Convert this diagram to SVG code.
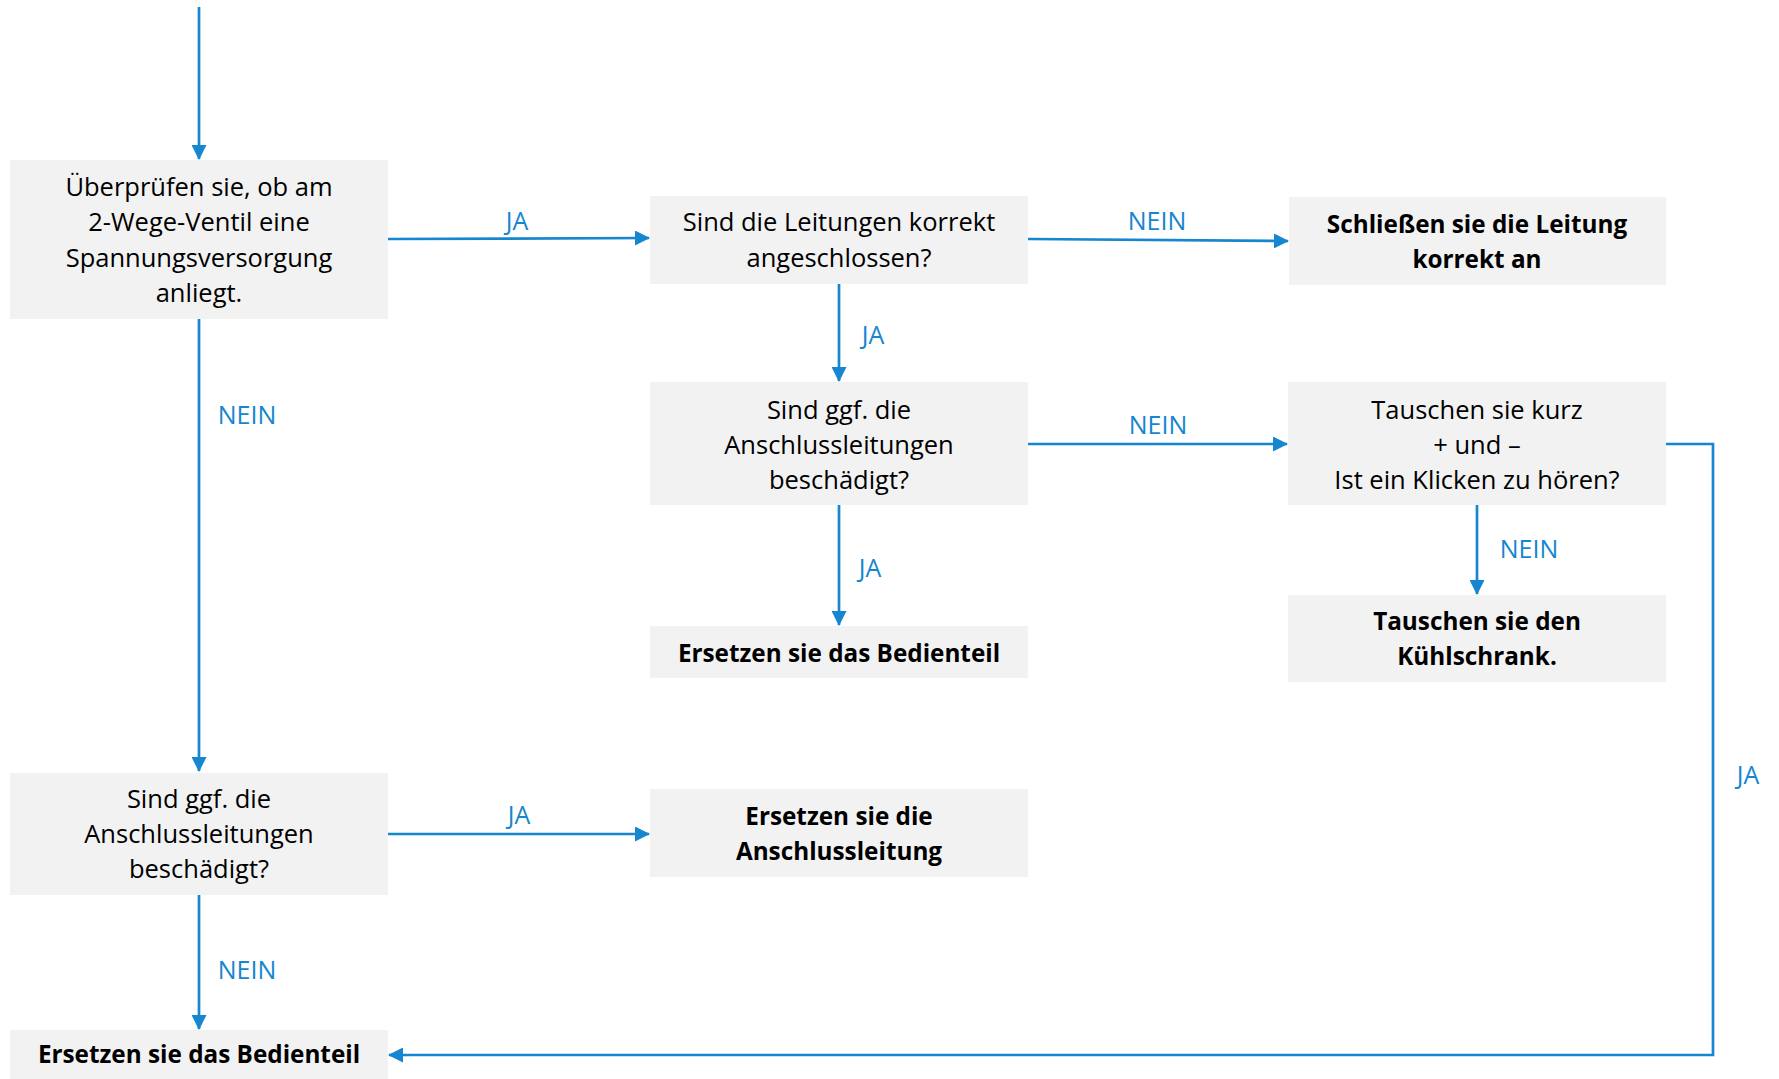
<svg xmlns="http://www.w3.org/2000/svg" width="1779" height="1079" viewBox="0 0 1779 1079">
<style>
.box{fill:#f2f2f2}
.t{font-family:"Open Sans","Liberation Sans",sans-serif;font-size:25.5px;fill:#000;text-anchor:middle}
.b{font-weight:bold;font-size:24.3px}
.l{font-family:"Open Sans","Liberation Sans",sans-serif;font-size:25px;fill:#1586cf;text-anchor:middle}
.c{fill:none;stroke:#1586cf;stroke-width:2.7}
</style>
<defs>
<marker id="ah" markerWidth="15" markerHeight="15" refX="14" refY="7.5" orient="auto" markerUnits="userSpaceOnUse">
<path d="M0,0 L15,7.5 L0,15 Z" fill="#1586cf"/>
</marker>
</defs>
<rect width="1779" height="1079" fill="#fff"/>
<g id="connectors">
<path class="c" d="M199,7 V159" marker-end="url(#ah)"/>
<path class="c" d="M388,239 L649,238" marker-end="url(#ah)"/>
<path class="c" d="M1028,239 L1288,241" marker-end="url(#ah)"/>
<path class="c" d="M839,284 V381" marker-end="url(#ah)"/>
<path class="c" d="M1028,444 H1287" marker-end="url(#ah)"/>
<path class="c" d="M839,505 V625" marker-end="url(#ah)"/>
<path class="c" d="M1477,505 V594" marker-end="url(#ah)"/>
<path class="c" d="M1666,444 H1713 V1055 H389" marker-end="url(#ah)"/>
<path class="c" d="M199,319 V771" marker-end="url(#ah)"/>
<path class="c" d="M388,834 H649" marker-end="url(#ah)"/>
<path class="c" d="M199,895 V1029" marker-end="url(#ah)"/>
<text class="l" x="517" y="230">JA</text>
<text class="l" x="1157" y="230">NEIN</text>
<text class="l" x="873" y="344">JA</text>
<text class="l" x="1158" y="434">NEIN</text>
<text class="l" x="870" y="577">JA</text>
<text class="l" x="1529" y="558">NEIN</text>
<text class="l" x="1748" y="784">JA</text>
<text class="l" x="247" y="424">NEIN</text>
<text class="l" x="519" y="824">JA</text>
<text class="l" x="247" y="979">NEIN</text>
</g>
<g id="n1">
<rect class="box" x="10" y="160" width="378" height="159"/>
<text class="t" x="199" y="196">Überprüfen sie, ob am</text>
<text class="t" x="199" y="231">2-Wege-Ventil eine</text>
<text class="t" x="199" y="267">Spannungsversorgung</text>
<text class="t" x="199" y="302">anliegt.</text>
</g>
<g id="n2">
<rect class="box" x="650" y="196" width="378" height="88"/>
<text class="t" x="839" y="231">Sind die Leitungen korrekt</text>
<text class="t" x="839" y="267">angeschlossen?</text>
</g>
<g id="n3">
<rect class="box" x="1289" y="197" width="377" height="88"/>
<text class="t b" x="1477" y="233">Schließen sie die Leitung</text>
<text class="t b" x="1477" y="268">korrekt an</text>
</g>
<g id="n4">
<rect class="box" x="650" y="382" width="378" height="123"/>
<text class="t" x="839" y="419">Sind ggf. die</text>
<text class="t" x="839" y="454">Anschlussleitungen</text>
<text class="t" x="839" y="489">beschädigt?</text>
</g>
<g id="n5">
<rect class="box" x="1288" y="382" width="378" height="123"/>
<text class="t" x="1477" y="419">Tauschen sie kurz</text>
<text class="t" x="1477" y="454">+ und –</text>
<text class="t" x="1477" y="489">Ist ein Klicken zu hören?</text>
</g>
<g id="n6">
<rect class="box" x="650" y="626" width="378" height="52"/>
<text class="t b" x="839" y="662">Ersetzen sie das Bedienteil</text>
</g>
<g id="n7">
<rect class="box" x="1288" y="595" width="378" height="87"/>
<text class="t b" x="1477" y="630">Tauschen sie den</text>
<text class="t b" x="1477" y="665">Kühlschrank.</text>
</g>
<g id="n8">
<rect class="box" x="10" y="773" width="378" height="122"/>
<text class="t" x="199" y="808">Sind ggf. die</text>
<text class="t" x="199" y="843">Anschlussleitungen</text>
<text class="t" x="199" y="878">beschädigt?</text>
</g>
<g id="n9">
<rect class="box" x="650" y="789" width="378" height="88"/>
<text class="t b" x="839" y="825">Ersetzen sie die</text>
<text class="t b" x="839" y="860">Anschlussleitung</text>
</g>
<g id="n10">
<rect class="box" x="10" y="1030" width="378" height="49"/>
<text class="t b" x="199" y="1063">Ersetzen sie das Bedienteil</text>
</g>
</svg>
